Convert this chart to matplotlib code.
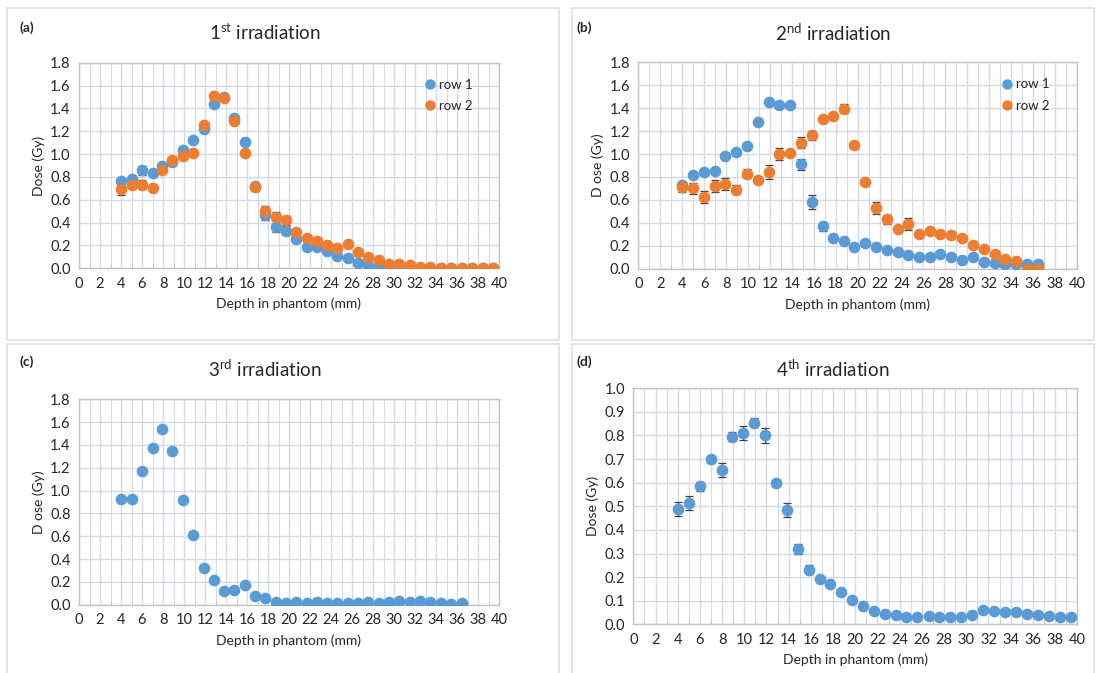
import numpy as np
import matplotlib
matplotlib.use("Agg")
import matplotlib.pyplot as plt
from matplotlib.patches import Rectangle
from matplotlib.lines import Line2D
from matplotlib.ticker import MultipleLocator

plt.rcParams['font.family'] = ['Lato', 'DejaVu Sans']
plt.rcParams['mathtext.fontset'] = 'custom'
plt.rcParams['mathtext.rm'] = 'Lato'

# --- Data ---
depth = [4.0, 5.0, 6.0, 7.0, 7.95, 8.9, 9.9, 10.9, 11.9, 12.85, 13.85, 14.8,
         15.8, 16.8, 17.75, 18.75, 19.7, 20.7, 21.7, 22.65, 23.65, 24.6, 25.6,
         26.6, 27.55, 28.55, 29.5, 30.5, 31.5, 32.5, 33.45, 34.45, 35.45,
         36.45, 37.45, 38.45, 39.45]

# (a) 1st irradiation
a_row1 = [0.76, 0.78, 0.86, 0.83, 0.90, 0.93, 1.04, 1.12, 1.22, 1.44, 1.50, 1.32,
          1.11, 0.72, 0.47, 0.36, 0.33, 0.26, 0.19, 0.19, 0.15, 0.11, 0.09,
          0.05, 0.03, 0.02, 0.01, 0.01, 0.005, 0.003, 0.002, 0.002, 0.002,
          0.002, 0.002, 0.002, 0.002]
a_row1_err = [0.02, 0.02, 0.04, 0.02, 0.02, 0.02, 0.02, 0.02, 0.02, 0.02, 0.02, 0.02,
              0.03, 0.03, 0.05, 0.04, 0.04, 0.02, 0.01, 0.01, 0.01, 0.01, 0.01,
              0.01, 0.01, 0.01, 0.01, 0.01, 0.01, 0.01, 0.01, 0.01, 0.01,
              0.01, 0.01, 0.01, 0.01]
a_row2 = [0.69, 0.73, 0.73, 0.70, 0.86, 0.945, 0.985, 1.01, 1.255, 1.51, 1.49, 1.29,
          1.01, 0.71, 0.505, 0.45, 0.42, 0.32, 0.265, 0.235, 0.20, 0.175, 0.215,
          0.145, 0.10, 0.07, 0.04, 0.04, 0.025, 0.015, 0.01, 0.005, 0.005,
          0.005, 0.005, 0.005, 0.005]
a_row2_err = [0.05, 0.03, 0.04, 0.02, 0.02, 0.02, 0.02, 0.02, 0.02, 0.03, 0.02, 0.02,
              0.02, 0.03, 0.04, 0.04, 0.04, 0.02, 0.02, 0.02, 0.01, 0.01, 0.01,
              0.01, 0.01, 0.01, 0.01, 0.01, 0.01, 0.01, 0.01, 0.01, 0.01,
              0.01, 0.01, 0.01, 0.01]

# (b) 2nd irradiation
b_row1 = [0.73, 0.82, 0.84, 0.85, 0.98, 1.02, 1.07, 1.28, 1.45, 1.43, 1.43, 0.91,
          0.58, 0.37, 0.27, 0.24, 0.19, 0.22, 0.19, 0.16, 0.145, 0.12, 0.10,
          0.105, 0.125, 0.105, 0.075, 0.10, 0.06, 0.05, 0.045, 0.04, 0.04, 0.04]
b_row1_err = [0.02, 0.01, 0.01, 0.01, 0.01, 0.01, 0.01, 0.01, 0.01, 0.01, 0.01, 0.05,
              0.06, 0.04, 0.02, 0.02, 0.01, 0.01, 0.01, 0.01, 0.01, 0.01, 0.01,
              0.01, 0.01, 0.01, 0.01, 0.01, 0.01, 0.01, 0.01, 0.01, 0.01, 0.01]
b_row2 = [0.71, 0.70, 0.625, 0.72, 0.74, 0.69, 0.83, 0.775, 0.84, 1.00, 1.01, 1.10,
          1.165, 1.305, 1.335, 1.395, 1.08, 0.755, 0.53, 0.43, 0.35, 0.39, 0.305,
          0.325, 0.305, 0.29, 0.27, 0.205, 0.17, 0.125, 0.085, 0.07, 0.0, 0.0]
b_row2_err = [0.04, 0.05, 0.05, 0.05, 0.05, 0.04, 0.04, 0.02, 0.06, 0.05, 0.02, 0.05,
              0.04, 0.02, 0.02, 0.04, 0.02, 0.02, 0.05, 0.04, 0.02, 0.05, 0.02,
              0.02, 0.02, 0.02, 0.02, 0.01, 0.01, 0.01, 0.01, 0.01, 0.01, 0.01]

# (c) 3rd irradiation
c_row1 = [0.93, 0.93, 1.17, 1.37, 1.54, 1.35, 0.92, 0.61, 0.32, 0.22, 0.12, 0.13,
          0.17, 0.08, 0.06, 0.02, 0.015, 0.02, 0.015, 0.02, 0.012, 0.018, 0.012,
          0.012, 0.02, 0.015, 0.023, 0.03, 0.023, 0.03, 0.022, 0.015, 0.008, 0.012]
c_row1_err = [0.02, 0.02, 0.02, 0.01, 0.01, 0.01, 0.01, 0.02, 0.01, 0.02, 0.01, 0.01,
              0.01, 0.01, 0.01, 0.01, 0.01, 0.01, 0.01, 0.01, 0.01, 0.01, 0.01,
              0.01, 0.01, 0.01, 0.01, 0.01, 0.01, 0.01, 0.01, 0.01, 0.01, 0.01]

# (d) 4th irradiation
d_row1 = [0.49, 0.515, 0.585, 0.70, 0.655, 0.795, 0.81, 0.855, 0.80, 0.60, 0.485,
          0.32, 0.232, 0.19, 0.172, 0.137, 0.103, 0.076, 0.055, 0.042, 0.041, 0.032,
          0.03, 0.035, 0.031, 0.03, 0.032, 0.039, 0.059, 0.056, 0.051, 0.054,
          0.045, 0.039, 0.037, 0.032, 0.031]
d_row1_err = [0.03, 0.03, 0.02, 0.015, 0.03, 0.02, 0.03, 0.02, 0.03, 0.005, 0.03,
              0.02, 0.02, 0.01, 0.005, 0.005, 0.005, 0.005, 0.005, 0.005, 0.005, 0.005,
              0.005, 0.005, 0.005, 0.005, 0.005, 0.005, 0.005, 0.005, 0.005, 0.005,
              0.005, 0.005, 0.005, 0.005, 0.005]

BLUE = '#5B9BD5'
ORANGE = '#ED7D31'
GRID = '#d6dae5'
FRAME = '#c4c4c4'
TXT = '#262626'

fig = plt.figure(figsize=(11, 6.73), dpi=100)

# light panel borders (Excel chart areas)
for (x0, y0, w, h) in [(7, 8, 552, 332), (572, 8, 522, 332),
                       (7, 344, 552, 330), (572, 344, 522, 330)]:
    fig.patches.append(Rectangle((x0 / 1100, 1 - (y0 + h) / 673), w / 1100, h / 673,
                                 transform=fig.transFigure, fill=False,
                                 edgecolor='#dde1e8', linewidth=1.2))


def panel(rect, ymax, ystep, series, ylabel, legend):
    ax = fig.add_axes(rect)
    for x, y, err, col, lab in series:
        ax.errorbar(depth[:len(y)], y, yerr=err, fmt='o', color=col, ms=7.4,
                    ecolor='#404040', elinewidth=0.9, capsize=3, capthick=0.9,
                    label=lab, zorder=3)
    ax.set_xlim(0, 40)
    ax.set_ylim(0, ymax)
    ax.xaxis.set_major_locator(MultipleLocator(2))
    ax.xaxis.set_minor_locator(MultipleLocator(1))
    ax.yaxis.set_major_locator(MultipleLocator(ystep))
    ax.grid(True, which='major', color=GRID, linewidth=1.0, zorder=0)
    ax.grid(True, which='minor', axis='x', color=GRID, linewidth=0.8, zorder=0)
    ax.set_axisbelow(True)
    ax.yaxis.set_major_formatter(plt.FuncFormatter(lambda v, p: f'{v:.1f}'))
    ax.tick_params(which='major', length=0, labelsize=10.5, colors=TXT, pad=6)
    ax.tick_params(axis='x', which='minor', direction='in', length=3, color='#bfbfbf')
    ax.tick_params(axis='y', which='minor', length=0)
    for s in ax.spines.values():
        s.set_color(FRAME)
        s.set_linewidth(1.0)
    ax.set_xlabel('Depth in phantom (mm)', fontsize=10, color=TXT, labelpad=5)
    ax.set_ylabel(ylabel, fontsize=10, color=TXT, labelpad=4)
    if legend:
        handles = [Line2D([], [], marker='o', ls='', color=s[3], ms=6.5) for s in series]
        ax.legend(handles, [s[4] for s in series], loc='upper right',
                  bbox_to_anchor=(0.965, 0.98), frameon=False, fontsize=9.5,
                  handlelength=0.8, handletextpad=0.3, labelspacing=0.7,
                  labelcolor=TXT)
    return ax


specs = [
    ([79 / 1100, 1 - 268.3 / 673, 420 / 1100, 205.6 / 673], 1.8, 0.2,
     [(depth, a_row1, a_row1_err, BLUE, 'row 1'), (depth, a_row2, a_row2_err, ORANGE, 'row 2')],
     '1', 'st', '(a)', 'Dose (Gy)', True, (265, 33), (27, 28)),
    ([638.3 / 1100, 1 - 268.7 / 673, 438.7 / 1100, 206.4 / 673], 1.8, 0.2,
     [(depth, b_row1, b_row1_err, BLUE, 'row 1'), (depth, b_row2, b_row2_err, ORANGE, 'row 2')],
     '2', 'nd', '(b)', 'D ose (Gy)', True, (833, 33), (584, 28)),
    ([79 / 1100, 1 - 604.7 / 673, 420 / 1100, 205.4 / 673], 1.8, 0.2,
     [(depth, c_row1, c_row1_err, BLUE, 'row 1')],
     '3', 'rd', '(c)', 'D ose (Gy)', False, (265, 369), (27, 362)),
    ([633.3 / 1100, 1 - 624.3 / 673, 444 / 1100, 236 / 673], 1.0, 0.1,
     [(depth, d_row1, d_row1_err, BLUE, 'row 1')],
     '4', 'th', '(d)', 'Dose (Gy)', False, (833, 369), (584, 362)),
]

for rect, ymax, ystep, series, num, sup, letter, ylabel, legend, tpos, lpos in specs:
    panel(rect, ymax, ystep, series, ylabel, legend)
    fig.text(tpos[0] / 1100, 1 - tpos[1] / 673,
             num + r'$^{\mathrm{' + sup + '}}$ irradiation',
             ha='center', va='center', fontsize=13.5, color=TXT)
    fig.text(lpos[0] / 1100, 1 - lpos[1] / 673, letter, ha='center', va='center',
             fontsize=10, fontweight='bold', color=TXT)

fig.savefig('out.png', dpi=100)
